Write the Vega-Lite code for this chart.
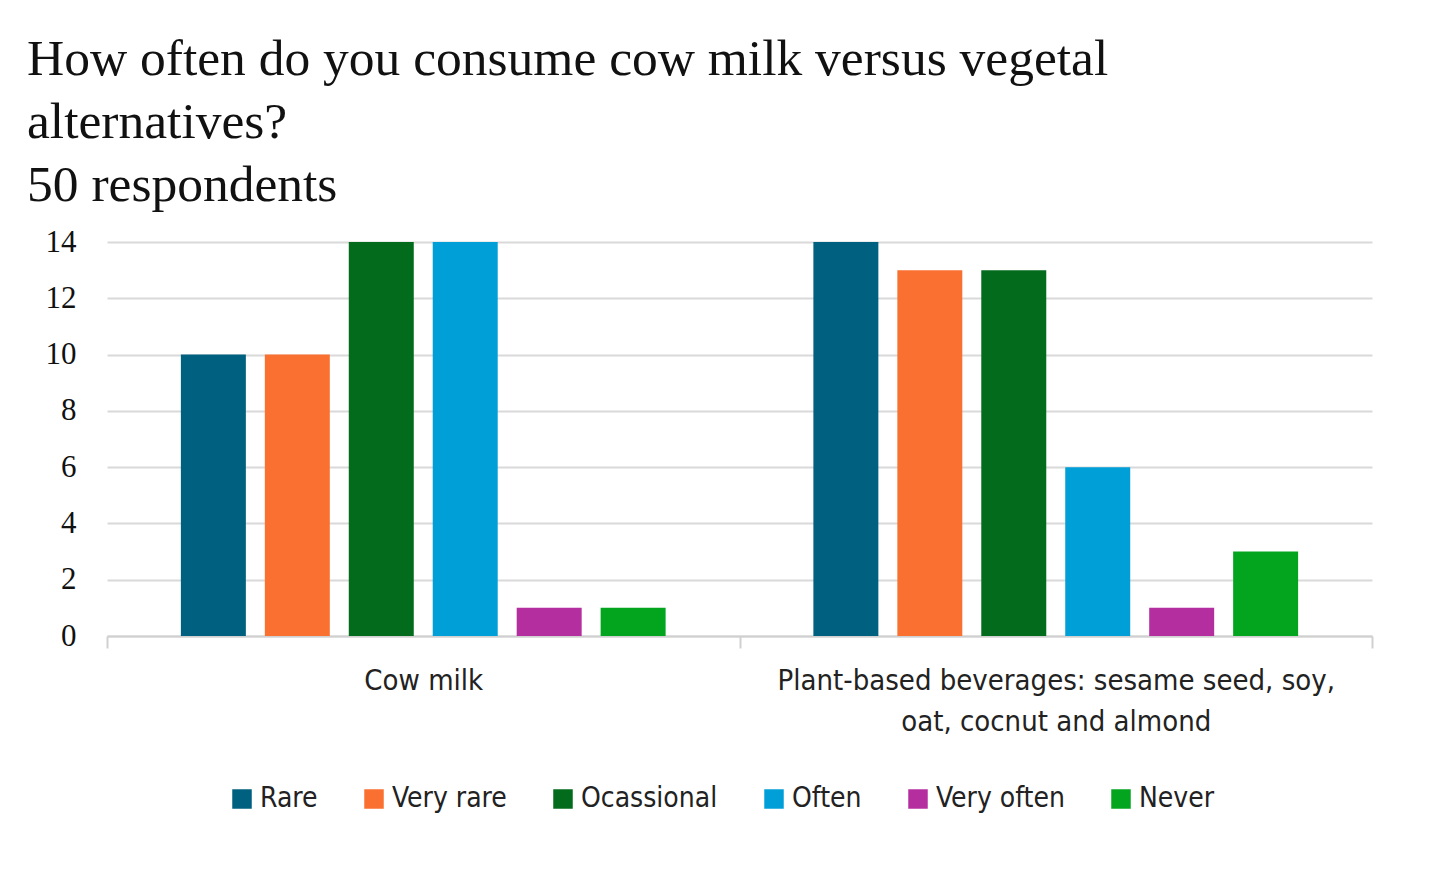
{
  "$schema": "https://vega.github.io/schema/vega-lite/v6.json",
  "width": 1265,
  "height": 394,
  "autosize": "none",
  "padding": {"left": 107, "top": 242, "right": 60, "bottom": 237},
  "background": "white",
  "title": {
    "text": ["How often do you consume cow milk versus vegetal", "alternatives?", "50 respondents"],
    "anchor": "start",
    "frame": "bounds",
    "font": "Liberation Serif",
    "fontSize": 51.5,
    "fontWeight": "normal",
    "color": "#111111",
    "lineHeight": 63,
    "offset": 15,
    "dx": -18
  },
  "data": {
    "values": [
      {"item": "Cow milk", "answer": "Rare", "count": 10},
      {"item": "Cow milk", "answer": "Very rare", "count": 10},
      {"item": "Cow milk", "answer": "Ocassional", "count": 14},
      {"item": "Cow milk", "answer": "Often", "count": 14},
      {"item": "Cow milk", "answer": "Very often", "count": 1},
      {"item": "Cow milk", "answer": "Never", "count": 1},
      {"item": "Plant-based beverages", "answer": "Rare", "count": 14},
      {"item": "Plant-based beverages", "answer": "Very rare", "count": 13},
      {"item": "Plant-based beverages", "answer": "Ocassional", "count": 13},
      {"item": "Plant-based beverages", "answer": "Often", "count": 6},
      {"item": "Plant-based beverages", "answer": "Very often", "count": 1},
      {"item": "Plant-based beverages", "answer": "Never", "count": 3}
    ]
  },
  "mark": {"type": "bar"},
  "encoding": {
    "x": {
      "field": "item",
      "type": "nominal",
      "sort": null,
      "scale": {"paddingInner": 0, "paddingOuter": 0},
      "axis": {
        "title": null,
        "labelAngle": 0,
        "labelFont": "DejaVu Sans Condensed",
        "labelFontSize": 29,
        "labelColor": "#222222",
        "labelLineHeight": 41,
        "labelPadding": 18,
        "labelLimit": 0,
        "labelExpr": "datum.value == 'Plant-based beverages' ? ['Plant-based beverages: sesame seed, soy,', 'oat, cocnut and almond'] : datum.label",
        "tickBand": "extent",
        "ticks": true,
        "tickSize": 12,
        "tickColor": "#d0d0d0",
        "tickWidth": 2,
        "domainColor": "#d0d0d0",
        "domainWidth": 2,
        "grid": false
      }
    },
    "xOffset": {
      "field": "answer",
      "type": "nominal",
      "sort": ["Rare", "Very rare", "Ocassional", "Often", "Very often", "Never"],
      "scale": {"paddingInner": 0.226, "paddingOuter": 0.88}
    },
    "y": {
      "field": "count",
      "type": "quantitative",
      "scale": {"domain": [0, 14], "nice": false},
      "axis": {
        "title": null,
        "values": [0, 2, 4, 6, 8, 10, 12, 14],
        "domain": false,
        "ticks": false,
        "labelFont": "Liberation Serif",
        "labelFontSize": 31,
        "labelColor": "#111111",
        "labelPadding": 31,
        "gridColor": "#d9d9d9",
        "gridWidth": 2
      }
    },
    "color": {
      "field": "answer",
      "type": "nominal",
      "sort": ["Rare", "Very rare", "Ocassional", "Often", "Very often", "Never"],
      "scale": {
        "domain": ["Rare", "Very rare", "Ocassional", "Often", "Very often", "Never"],
        "range": ["#00607f", "#fa7030", "#036b1c", "#009fd8", "#b52ea0", "#04a51e"]
      },
      "legend": {
        "title": null,
        "orient": "none",
        "legendX": 121,
        "legendY": 543,
        "direction": "horizontal",
        "symbolType": "square",
        "symbolSize": 380,
        "symbolStrokeWidth": 0,
        "labelFont": "DejaVu Sans Condensed",
        "labelFontSize": 28,
        "labelColor": "#222222",
        "columnPadding": 42
      }
    }
  },
  "config": {
    "view": {"stroke": null}
  }
}
